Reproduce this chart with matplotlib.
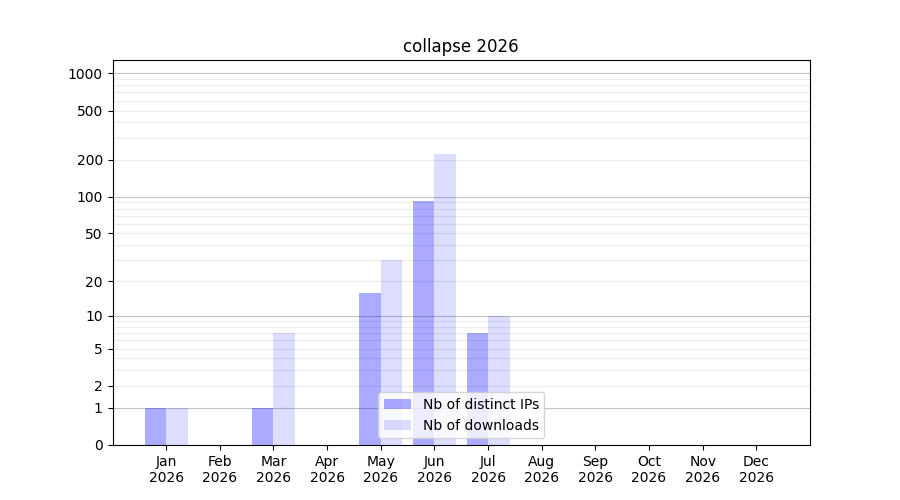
import numpy as np
import matplotlib
matplotlib.use("Agg")
import matplotlib.pyplot as plt

months = ["Jan", "Feb", "Mar", "Apr", "May", "Jun", "Jul", "Aug", "Sep", "Oct", "Nov", "Dec"]
year = "2026"
distinct_ips = [1, 0, 1, 0, 16, 93, 7, 0, 0, 0, 0, 0]
downloads = [1, 0, 7, 0, 30, 221, 10, 0, 0, 0, 0, 0]
ytick_vals = [0, 1, 2, 5, 10, 20, 50, 100, 200, 500, 1000]
major_grid = [1, 10, 100, 1000]
minor_grid = [m * d for d in (1, 10, 100) for m in range(2, 10)]

fig, ax = plt.subplots(figsize=(9, 5), dpi=100)

def fwd(y):
    return np.log10(1 + np.clip(y, 0, None))

def inv(y):
    return 10 ** y - 1

ax.set_yscale("function", functions=(fwd, inv))

x = np.arange(len(months))
w = 0.4
for g in minor_grid:
    ax.axhline(g, color="#ececec", lw=0.8, zorder=0.5)
for g in major_grid:
    ax.axhline(g, color="#c4c4c4", lw=0.8, zorder=0.6)

ax.bar(x, distinct_ips, width=-w, align="edge", color="blue", alpha=0.33,
       label="Nb of distinct IPs", zorder=1)
ax.bar(x, downloads, width=w, align="edge", color="blue", alpha=0.135,
       label="Nb of downloads", zorder=1)

ax.set_xlim(-1, 12)
ax.set_ylim(0, 1280)
ax.set_yticks(ytick_vals)
ax.set_yticklabels([str(v) for v in ytick_vals])
ax.yaxis.set_minor_locator(matplotlib.ticker.NullLocator())
ax.set_xticks(x)
ax.set_xticklabels([f"{m}\n{year}" for m in months])
ax.set_title("collapse 2026")
ax.legend(loc="lower center")

fig.savefig("out.png")
